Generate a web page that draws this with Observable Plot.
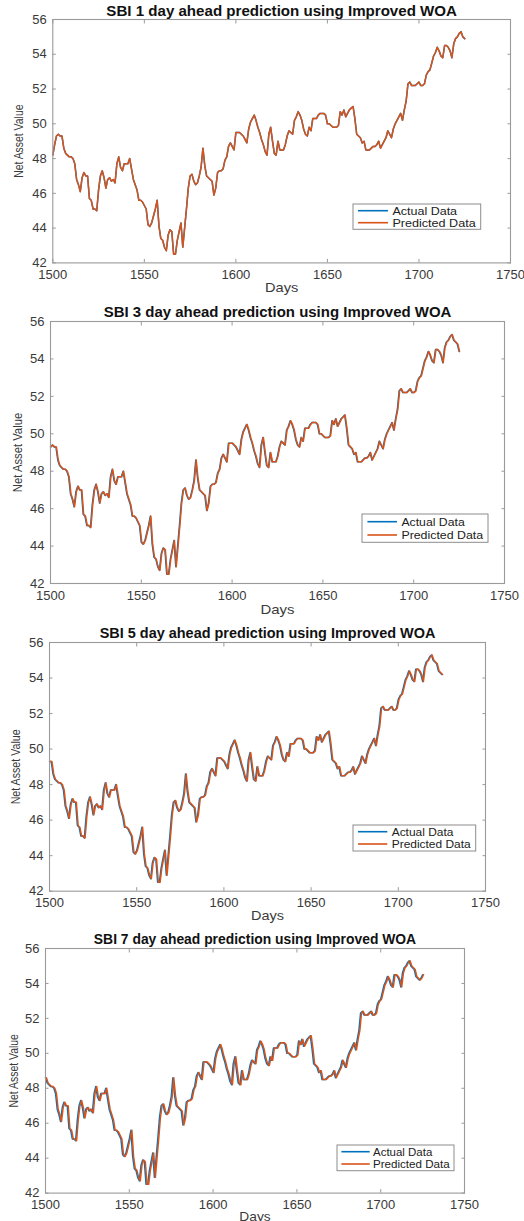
<!DOCTYPE html>
<html><head><meta charset="utf-8">
<script src="https://cdn.jsdelivr.net/npm/d3@7"></script>
<script src="https://cdn.jsdelivr.net/npm/@observablehq/plot@0.6"></script>
<style>
body{margin:0;background:#fff;font-family:"Liberation Sans",Arial,Helvetica,sans-serif;}
#page{position:relative;width:524px;height:1221px;overflow:hidden;background:#fff;}
.panel{position:absolute;left:0;}
.panel svg{overflow:visible;}
</style></head><body><div id="page"></div>
<script>
// ---------------- data ----------------
const startDay = 1500;           // day of the first value in nav
const lastDay = 1725;            // last plotted day in each panel
// Net asset value, one value per day 1500..1731
const nav = [
  48.2, 48.8, 49.3, 49.4, 49.3, 49.3, 48.6, 48.3, 48.2, 48.1,
  48.1, 48.0, 47.7, 46.8, 46.5, 46.1, 46.9, 47.2, 47.0, 47.0,
  45.7, 45.6, 45.1, 45.1, 45.0, 46.2, 47.0, 47.3, 46.9, 46.3,
  46.8, 46.9, 46.7, 46.8, 46.6, 47.7, 48.1, 47.5, 47.3, 47.7,
  47.7, 47.7, 48.0, 47.4, 46.8, 46.5, 46.2, 45.6, 45.6, 45.5,
  45.3, 45.1, 44.2, 44.1, 44.3, 44.7, 45.1, 45.6, 44.1, 43.4,
  43.3, 42.9, 42.7, 43.6, 43.9, 43.8, 42.5, 42.5, 43.3, 43.8,
  44.3, 42.9, 44.0, 45.1, 46.3, 47.0, 47.1, 46.7, 46.5, 46.6,
  47.0, 47.5, 48.6, 47.6, 47.0, 46.9, 46.8, 46.7, 45.9, 46.3,
  47.2, 47.3, 47.3, 47.4, 47.9, 48.1, 48.7, 48.9, 48.7, 48.5,
  49.5, 49.5, 49.5, 49.4, 49.3, 49.1, 48.9, 49.7, 50.1, 50.3,
  50.5, 50.2, 49.8, 49.5, 49.1, 48.8, 48.4, 48.2, 49.4, 49.8,
  49.0, 48.3, 48.2, 49.0, 48.5, 48.5, 48.5, 48.8, 49.3, 49.6,
  49.5, 49.4, 50.2, 50.4, 50.7, 50.5, 50.2, 49.7, 49.4, 49.3,
  49.8, 49.6, 50.3, 50.3, 50.3, 50.5, 50.6, 50.6, 50.6, 50.5,
  50.0, 50.0, 49.9, 49.8, 49.8, 49.8, 49.9, 50.7, 50.5, 50.8,
  50.4, 50.6, 50.8, 50.9, 51.0, 50.3, 49.4, 49.3, 49.2, 48.9,
  49.0, 48.5, 48.5, 48.5, 48.6, 48.7, 48.7, 48.8, 49.0, 48.6,
  48.8, 49.0, 49.2, 49.6, 49.4, 49.2, 49.7, 50.0, 50.2, 50.4,
  50.6, 50.2, 50.8, 51.3, 52.3, 52.4, 52.2, 52.2, 52.2, 52.3,
  52.4, 52.2, 52.2, 52.3, 52.8, 53.0, 53.1, 53.5, 53.9, 54.1,
  54.4, 54.2, 53.9, 53.8, 54.5, 54.5, 54.4, 54.2, 53.8, 54.6,
  54.9, 55.0, 55.2, 55.3, 55.0, 54.9, 54.8, 54.4, 54.3, 54.2,
  54.3, 54.5
];
const horizons = [1, 3, 5, 7];          // days ahead
const dayShift = [0, 2, 4, 6];          // where each panel's window starts in nav
const predLag = [0, 0.25, 0.4, 0.55];   // lag of the predicted curve (days)
const xTicks = [1500, 1550, 1600, 1650, 1700, 1750];
const yTicks = [42, 44, 46, 48, 50, 52, 54, 56];
const xDomain = [1500, 1750];
const yDomain = [42, 56];
const seriesNames = ["Actual Data", "Predicted Data"];
const seriesColors = ["#0072BD", "#D95319"];
const xLabel = "Days";
const yLabel = "Net Asset Value";
const titleText = h => `SBI ${h} day ahead prediction using Improved WOA`;

// ---------------- layout (page pixels) ----------------
const layout = [
  {L:52.3, R:510, T:19.3,  B:262.7,  tDy:-7.8, tW:350.7, yX:34,   yW:73.3, xDy:24.7, xW:33.3,
   leg:{x:353.3, y:204,  w:127.7, h:25.3, r1:6.7, r2:18.7, l0:5,   l1:35,   tx:39.4, aw:64.7, pw:83.3}},
  {L:50,   R:504, T:320.7, B:582.7,  tDy:-9.2, tW:347.7, yX:32.5, yW:79.3, xDy:26.3, xW:34,
   leg:{x:362.3, y:514,  w:126,   h:28.3, r1:7.7, r2:21,   l0:5.4, l1:35,   tx:39.4, aw:63.3, pw:81.7}},
  {L:49,   R:485, T:642.3, B:891,    tDy:-8.8, tW:335.7, yX:33.7, yW:75,   xDy:24.5, xW:33,
   leg:{x:353.3, y:825,  w:122.7, h:26,   r1:6.7, r2:19,   l0:5,   l1:34.3, tx:38.7, aw:61.7, pw:79}},
  {L:45,   R:464, T:947.7, B:1192.3, tDy:-8.7, tW:322.3, yX:31.2, yW:73.3, xDy:24.2, xW:31.3,
   leg:{x:337.3, y:1145, w:117,   h:25.7, r1:6.7, r2:19,   l0:4.4, l1:32.7, tx:36,   aw:59.3, pw:76.7}}
];
const W = 524, MT = 22, MB = 29;
const axisColor = "#9a9a9a", labelColor = "#3a3a3a", legendBorder = "#8c8c8c";
const fmt = d => String(d);

const page = document.getElementById("page");

function panelSeries(i, lag) {
  return nav.map((v, j) => ({t: startDay + j - dayShift[i], y: v}))
    .filter(p => p.t >= xDomain[0] && p.t <= lastDay)
    .map(p => ({x: p.t + lag, y: p.y}));
}

function fitText(svg, content, len) {
  svg.querySelectorAll("text").forEach(t => {
    if (t.textContent === content) {
      t.setAttribute("textLength", len);
      t.setAttribute("lengthAdjust", "spacingAndGlyphs");
    }
  });
}

horizons.forEach((h, i) => {
  const g = layout[i];
  const actual = panelSeries(i, 0);
  const predicted = panelSeries(i, predLag[i]);
  const title = titleText(h);
  const height = (g.B - g.T) + MT + MB;
  const tick = -3.5;
  const chart = Plot.plot({
    width: W,
    height,
    marginLeft: g.L,
    marginRight: W - g.R,
    marginTop: MT,
    marginBottom: MB,
    x: {domain: xDomain},
    y: {domain: yDomain},
    style: {fontFamily: '"Liberation Sans", Arial, Helvetica, sans-serif', fontSize: "13px", color: labelColor, background: "transparent", overflow: "visible"},
    marks: [
      Plot.line(actual, {x: "x", y: "y", stroke: seriesColors[0], strokeWidth: 1.5}),
      Plot.line(predicted, {x: "x", y: "y", stroke: seriesColors[1], strokeWidth: 1.5}),
      Plot.frame({stroke: axisColor, strokeWidth: 1.1}),
      Plot.axisX(xTicks, {anchor: "bottom", tickSize: 0, tickPadding: 7, tickFormat: fmt, label: null, fill: labelColor, fontSize: 13}),
      Plot.axisX(xTicks, {anchor: "bottom", tickSize: tick, stroke: axisColor, fill: "none", label: null}),
      Plot.axisX(xTicks, {anchor: "top", tickSize: tick, stroke: axisColor, fill: "none", label: null}),
      Plot.axisY(yTicks, {anchor: "left", tickSize: 0, tickPadding: 6, tickFormat: fmt, label: null, fill: labelColor, fontSize: 13}),
      Plot.axisY(yTicks, {anchor: "left", tickSize: tick, stroke: axisColor, fill: "none", label: null}),
      Plot.axisY(yTicks, {anchor: "right", tickSize: tick, stroke: axisColor, fill: "none", label: null}),
      Plot.text([title], {frameAnchor: "top", lineAnchor: "middle", textAnchor: "middle", dy: g.tDy, fontWeight: "bold", fontSize: 14, fill: "#111"}),
      Plot.text([xLabel], {frameAnchor: "bottom", lineAnchor: "middle", textAnchor: "middle", dy: g.xDy, fontSize: 13, fill: labelColor}),
      Plot.text([yLabel], {frameAnchor: "left", lineAnchor: "middle", textAnchor: "middle", dx: -g.yX, rotate: -90, fontSize: 12.5, fill: labelColor})
    ]
  });
  fitText(chart, title, g.tW);
  fitText(chart, xLabel, g.xW);
  fitText(chart, yLabel, g.yW);
  const wrap = document.createElement("div");
  wrap.className = "panel";
  wrap.style.top = (g.T - MT) + "px";
  wrap.appendChild(chart);
  page.appendChild(wrap);

  // legend
  const L = g.leg;
  const lg = d3.create("svg")
    .attr("width", L.w + 2).attr("height", L.h + 2)
    .style("position", "absolute")
    .style("left", (L.x - 1) + "px").style("top", (L.y - 1) + "px");
  lg.append("rect").attr("x", 1).attr("y", 1).attr("width", L.w).attr("height", L.h)
    .attr("fill", "#fff").attr("stroke", legendBorder).attr("stroke-width", 1);
  seriesNames.forEach((name, k) => {
    const yy = 1 + (k === 0 ? L.r1 : L.r2);
    lg.append("line").attr("x1", 1 + L.l0).attr("x2", 1 + L.l1).attr("y1", yy).attr("y2", yy)
      .attr("stroke", seriesColors[k]).attr("stroke-width", 1.6);
    lg.append("text").attr("x", 1 + L.tx).attr("y", yy).attr("dy", "0.35em")
      .attr("font-family", '"Liberation Sans", Arial, sans-serif').attr("font-size", 11.5)
      .attr("fill", "#222")
      .attr("textLength", k === 0 ? L.aw : L.pw).attr("lengthAdjust", "spacingAndGlyphs")
      .text(name);
  });
  page.appendChild(lg.node());
});
</script></body></html>
